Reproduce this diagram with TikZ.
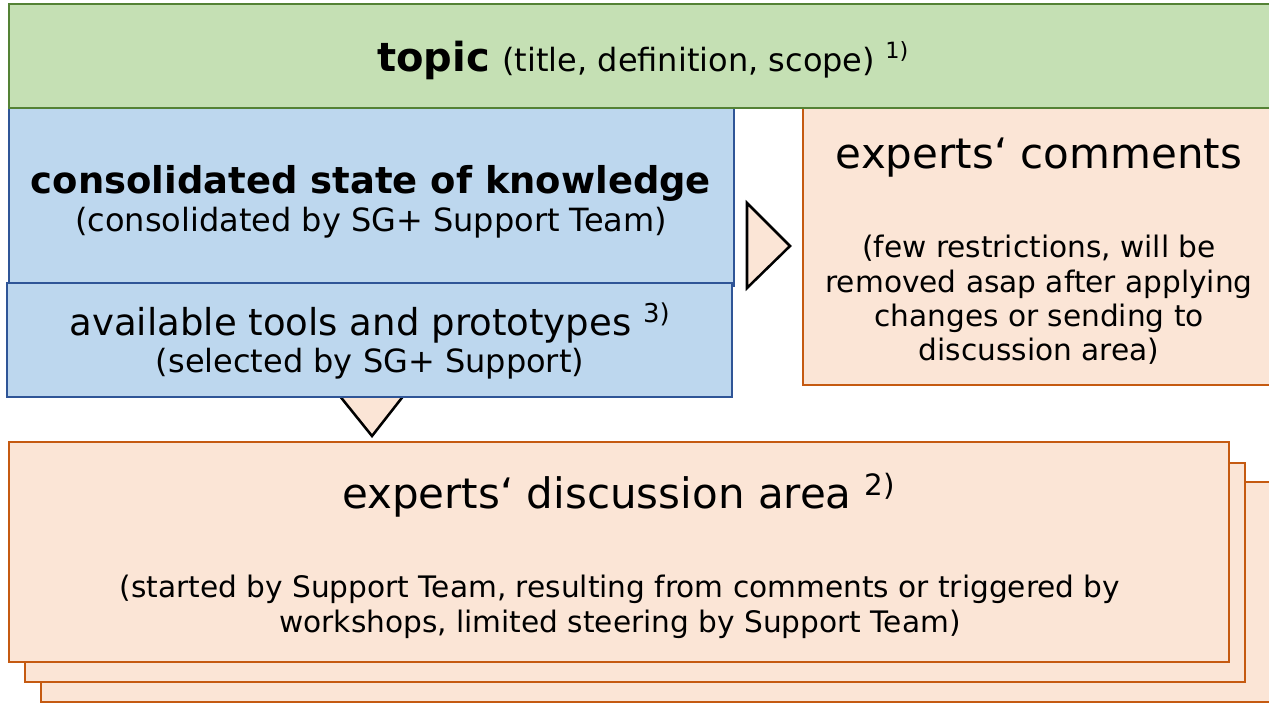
\documentclass[tikz,border=0pt]{standalone}
\usepackage{fontspec}
\setmainfont{DejaVu Sans}
\definecolor{gfill}{HTML}{C5E0B4}
\definecolor{gline}{HTML}{548235}
\definecolor{bfill}{HTML}{BDD7EE}
\definecolor{bline}{HTML}{2F5597}
\definecolor{ofill}{HTML}{FBE5D6}
\definecolor{oline}{HTML}{C55A11}
\newcommand\fs[1]{\fontsize{#1}{1.2\dimexpr#1\relax}\selectfont}
\begin{document}
\begin{tikzpicture}[x=0.75pt,y=-0.75pt,
  gbox/.style={draw=gline,fill=gfill,line width=1.8pt},
  bbox/.style={draw=bline,fill=bfill,line width=1.3pt},
  obox/.style={draw=oline,fill=ofill,line width=1.5pt},
  flowtri/.style={draw=black,fill=ofill,line width=1.9pt,line join=miter},
  txt/.style={inner sep=0pt,anchor=base,text=black},
  body/.style={txt,font=\fontsize{24pt}{27pt}\selectfont},
  small/.style={txt,font=\fontsize{22.2pt}{26pt}\selectfont}]
\clip (0,0) rectangle (1269,703);
\fill[white] (0,0) rectangle (1269,703);
% discussion stack
\draw[obox] (41,482) rectangle (1290,702);
\draw[obox] (25,463) rectangle (1245,682);
\draw[obox] (9,442) rectangle (1229,662);
% comments box
\draw[obox] (803,108) rectangle (1290,385);
% arrows
\draw[flowtri] (747,203) -- (747,288) -- (790,246) -- cycle;
\draw[flowtri] (335,390) -- (408,390) -- (372,436) -- cycle;
% blue boxes
\draw[bbox] (9,100) rectangle (734,286);
\draw[bbox] (7,283) rectangle (732,397);
% green box
\draw[gbox] (9,4) rectangle (1290,108);
% texts
\node[txt,anchor=center] (topic) at (643,60) {\fs{30pt}\textbf{topic} \fs{24pt}(title, definition, scope) \textsuperscript{1)}};
\node[txt] (csk) at (371,193) {\fs{27.7pt}\textbf{consolidated state of knowledge}};
\node[body] (cskb) at (371,231) {(consolidated by SG+ Support Team)};
\node[txt] (tools) at (370,335) {\fs{27.8pt}available tools and prototypes \textsuperscript{3)}};
\node[body] (toolsb) at (370,372) {(selected by SG+ Support)};
\node[txt] (com) at (1039,168) {\fs{31.5pt}experts‘ comments};
\node[small] (comb1) at (1039,257) {(few restrictions, will be};
\node[small] (comb2) at (1039,292) {removed asap after applying};
\node[small] (comb3) at (1039,326) {changes or sending to};
\node[small] (comb4) at (1039,360) {discussion area)};
\node[txt] (disct) at (619,508) {\fs{31.5pt}experts‘ discussion area \textsuperscript{2)}};
\node[small] (discb1) at (620,597) {(started by Support Team, resulting from comments or triggered by};
\node[small] (discb2) at (620,632) {workshops, limited steering by Support Team)};
\end{tikzpicture}
\end{document}
